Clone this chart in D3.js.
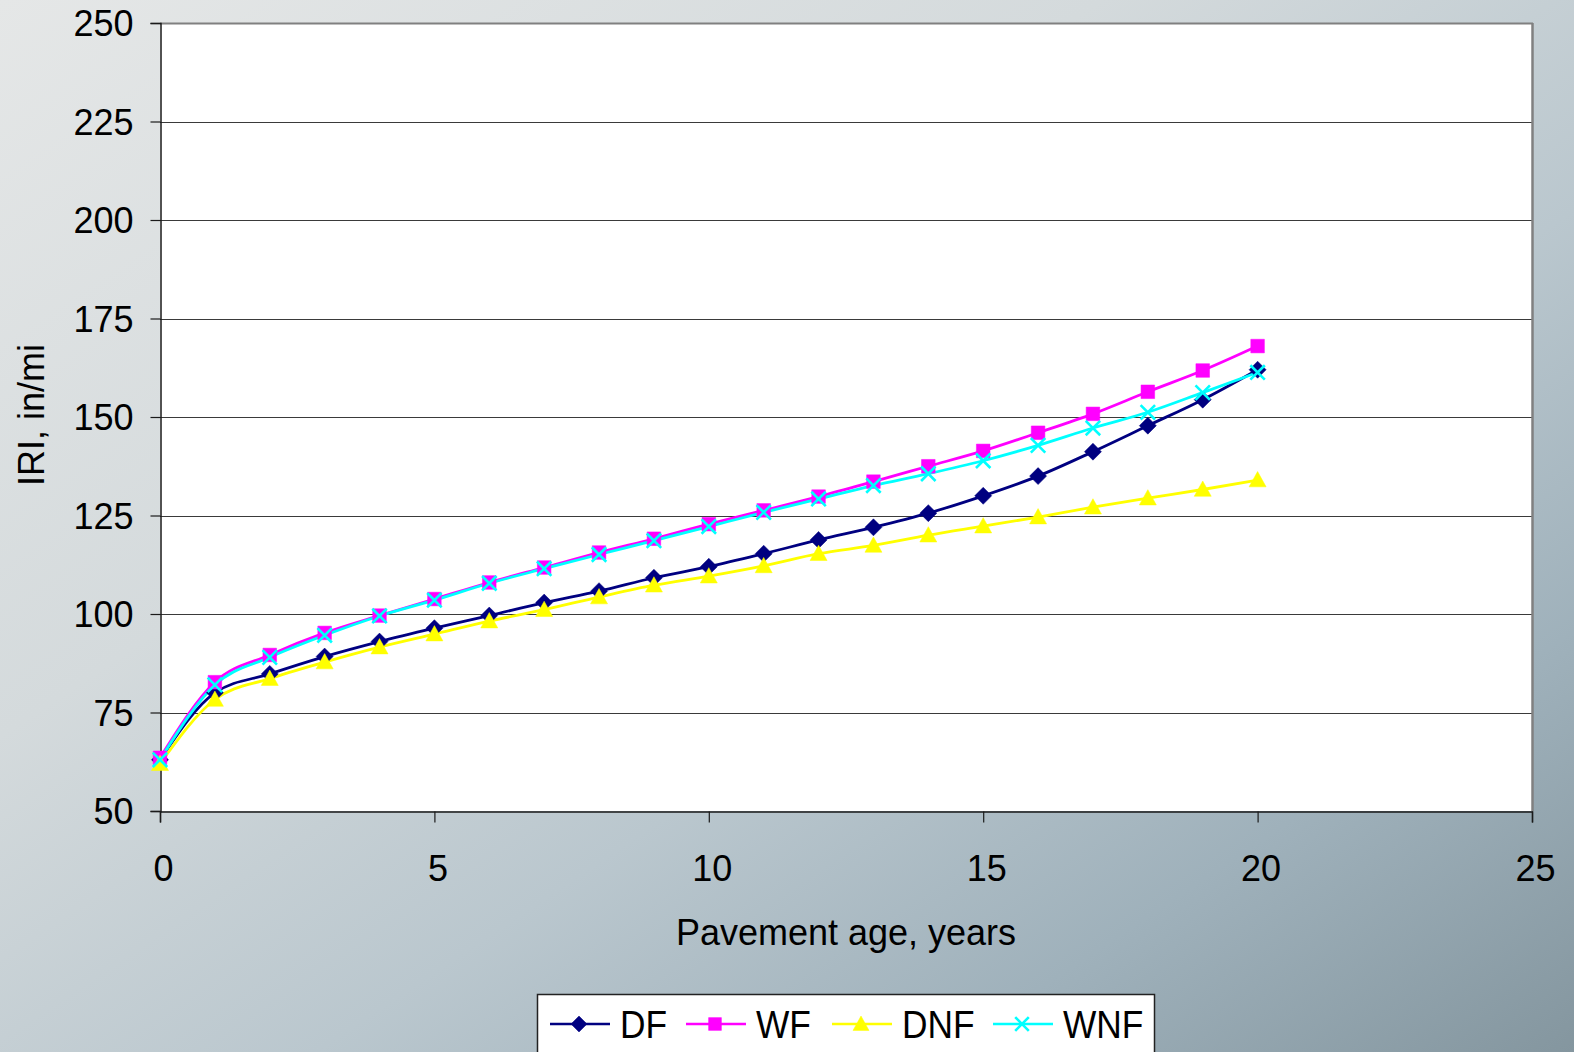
<!DOCTYPE html>
<html><head><meta charset="utf-8">
<script src="https://cdn.jsdelivr.net/npm/d3@7"></script>
<style>html,body{margin:0;padding:0;overflow:hidden;}svg{display:block;}</style>
</head><body>
<script>
const years = [0,1,2,3,4,5,6,7,8,9,10,11,12,13,14,15,16,17,18,19,20];
const DF  = [63, 80, 84.8, 89.2, 93, 96.4, 99.6, 102.9, 105.8, 109.2, 112, 115.3, 118.8, 122, 125.6, 130, 135, 141.2, 147.8, 154.4, 162];
const WF  = [63.5, 82.7, 89.6, 95.2, 99.6, 103.8, 108, 111.8, 115.6, 119.1, 122.8, 126.3, 129.8, 133.6, 137.5, 141.4, 146, 150.8, 156.4, 161.8, 168];
const DNF = [62, 78.3, 83.6, 87.8, 91.6, 94.9, 98.2, 101.1, 104.3, 107.3, 109.6, 112.2, 115.3, 117.4, 120, 122.3, 124.6, 127.1, 129.4, 131.6, 134];
const WNF = [63, 82, 89, 94.6, 99.5, 103.5, 107.8, 111.5, 115.1, 118.6, 122.2, 125.8, 129.2, 132.6, 135.6, 138.9, 142.8, 147.2, 151.2, 156.2, 161.3];
const seriesNames = ["DF","WF","DNF","WNF"];
const xTicks = [0,5,10,15,20,25];
const yTicks = [50,75,100,125,150,175,200,225,250];
const xTitle = "Pavement age, years";
const yTitle = "IRI, in/mi";

const W = 1574, H = 1052;
const series = [
  {name:seriesNames[0], values:DF, color:"#000080", marker:"diamond"},
  {name:seriesNames[1], values:WF, color:"#ff00ff", marker:"square"},
  {name:seriesNames[2], values:DNF, color:"#ffff00", marker:"triangle"},
  {name:seriesNames[3], values:WNF, color:"#00ffff", marker:"x"}
];
const font = "'Liberation Sans', Arial, sans-serif";
const FS = 36;

const svg = d3.select("body").append("svg").attr("width",W).attr("height",H);
const defs = svg.append("defs");
const g = defs.append("linearGradient").attr("id","bg").attr("x1","0").attr("y1","0").attr("x2","1").attr("y2","1");
[[0,"#e5e7e7"],[0.35,"#d4dadc"],[0.6,"#bac7ce"],[0.8,"#9fb1bb"],[1,"#84969f"]].forEach(([o,c])=>g.append("stop").attr("offset",o).attr("stop-color",c));
svg.append("rect").attr("width",W).attr("height",H).attr("fill","url(#bg)");

const L=160, R=1532, T=23, B=811;
const x = d3.scaleLinear().domain([0,25]).range([L,R]);
const y = d3.scaleLinear().domain([50,250]).range([B,T]);

svg.append("rect").attr("x",L).attr("y",T).attr("width",R-L).attr("height",B-T).attr("fill","#fff");

// gridlines
svg.append("g").selectAll("line").data(yTicks.filter(v=>v>50 && v<250)).join("line")
  .attr("x1",L).attr("x2",R).attr("y1",d=>Math.round(y(d))+0.5).attr("y2",d=>Math.round(y(d))+0.5)
  .attr("stroke","#3a3a3a").attr("stroke-width",1.2);
// border top/right
svg.append("line").attr("x1",L).attr("x2",R+1).attr("y1",T+0.5).attr("y2",T+0.5).attr("stroke","#808080").attr("stroke-width",2);
svg.append("line").attr("x1",R+0.5).attr("x2",R+0.5).attr("y1",T).attr("y2",B).attr("stroke","#808080").attr("stroke-width",2.5);

// axes
const yAxis = d3.axisLeft(y).tickValues(yTicks).tickSize(10).tickPadding(17).tickFormat(d3.format("d"));
const ya = svg.append("g").attr("transform",`translate(${L+0.5},0)`).call(yAxis);
const xAxis = d3.axisBottom(x).tickValues(xTicks).tickSize(11).tickPadding(33).tickFormat(d3.format("d"));
const xa = svg.append("g").attr("transform",`translate(0,${B+0.5})`).call(xAxis);
[ya,xa].forEach(a=>{
  a.select(".domain").attr("stroke","#1a1a1a").attr("stroke-width",1.5);
  a.selectAll(".tick line").attr("stroke","#1a1a1a").attr("stroke-width",1.2);
  a.selectAll("text").attr("font-family",font).attr("font-size",FS).attr("fill","#000");
});
ya.selectAll("text").attr("dy","0.35em");
xa.selectAll("text").attr("dy","0.71em").attr("dx",3);

svg.append("text").attr("x",846).attr("y",945).attr("text-anchor","middle")
  .attr("font-family",font).attr("font-size",FS).text(xTitle);
svg.append("text").attr("transform","translate(44,415) rotate(-90)").attr("text-anchor","middle")
  .attr("font-family",font).attr("font-size",FS).text(yTitle);

function markerPath(type, s){
  if(type==="diamond") return `M0,${-s}L${s},0L0,${s}L${-s},0Z`;
  if(type==="square") return `M${-s*0.8},${-s*0.8}h${s*1.6}v${s*1.6}h${-s*1.6}Z`;
  if(type==="triangle") return `M0,${-s}L${s},${s*0.8}L${-s},${s*0.8}Z`;
  if(type==="x") return `M${-s*0.85},${-s*0.85}L${s*0.85},${s*0.85}M${s*0.85},${-s*0.85}L${-s*0.85},${s*0.85}`;
}
function drawMarker(sel, type, color, s){
  sel.append("path").attr("d",markerPath(type,s))
    .attr("fill", type==="x" ? "none" : color)
    .attr("stroke", color).attr("stroke-width", type==="x" ? 2.6 : 0.5);
}

const line = d3.line().x(d=>x(d[0])).y(d=>y(d[1])).curve(d3.curveMonotoneX);
const plot = svg.append("g");
series.forEach(s=>{
  const pts = years.map((yr,i)=>[yr,s.values[i]]);
  plot.append("path").attr("d",line(pts)).attr("fill","none").attr("stroke",s.color).attr("stroke-width",2.8);
});
series.forEach(s=>{
  years.forEach((yr,i)=>{
    const m = plot.append("g").attr("transform",`translate(${x(yr)},${y(s.values[i])})`);
    drawMarker(m, s.marker, s.color, 8.5);
  });
});

// legend
const lg = svg.append("g");
lg.append("rect").attr("x",537.5).attr("y",994.5).attr("width",617).attr("height",70).attr("fill","#fff").attr("stroke","#222").attr("stroke-width",1.5);
const lx = [550, 686, 832, 993];
series.forEach((s,i)=>{
  const x0 = lx[i];
  lg.append("line").attr("x1",x0).attr("x2",x0+60).attr("y1",1024).attr("y2",1024).attr("stroke",s.color).attr("stroke-width",2.4);
  const m = lg.append("g").attr("transform",`translate(${x0+29},1024)`);
  drawMarker(m, s.marker, s.color, 8);
  lg.append("text").attr("transform",`translate(${x0+70},1038) scale(0.93,1)`)
    .attr("font-family",font).attr("font-size",38).text(s.name);
});
</script>
</body></html>
